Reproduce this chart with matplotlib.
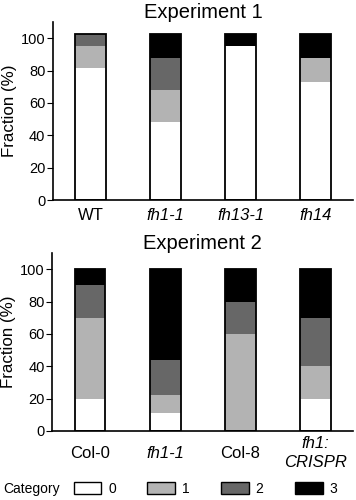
import numpy as np
import matplotlib.pyplot as plt
from matplotlib.patches import Patch

plt.rcParams['font.family'] = ['Liberation Sans', 'DejaVu Sans']

# Experiment 1 (fractions per category)
genotypes1 = ['WT', 'fh1-1', 'fh13-1', 'fh14']
cat0_1 = [81.5, 48, 95, 73]
cat1_1 = [13.5, 20, 0, 14.5]
cat2_1 = [7.5, 20, 0, 0]
cat3_1 = [0, 14.5, 7.5, 15]
italic1 = [False, True, True, True]

# Experiment 2
genotypes2 = ['Col-0', 'fh1-1', 'Col-8', 'fh1:\nCRISPR']
cat0_2 = [20, 11, 0, 20]
cat1_2 = [50, 11, 60, 20]
cat2_2 = [20, 22, 20, 30]
cat3_2 = [10, 56, 20, 30]
italic2 = [False, True, False, True]

categories = ['0', '1', '2', '3']
colors = ['white', '#b3b3b3', '#676767', 'black']


def panel(ax, names, data, italic, title, xpad):
    x = np.arange(len(names))
    bottom = np.zeros(len(names))
    for vals, c in zip(data, colors):
        ax.bar(x, vals, 0.41, bottom=bottom, color=c, edgecolor='none')
        bottom += np.array(vals)
    ax.bar(x, bottom, 0.41, fill=False, edgecolor='black', linewidth=1.3)
    ax.set_xlim(-0.5, 3.5)
    ax.set_ylim(0, 110)
    ax.set_yticks([0, 20, 40, 60, 80, 100])
    ax.set_xticks(x)
    ax.set_xticklabels(names, fontsize=12, va='center', linespacing=1.3)
    for lab, it in zip(ax.get_xticklabels(), italic):
        if it:
            lab.set_style('italic')
    ax.tick_params(axis='x', length=0, pad=xpad)
    ax.tick_params(axis='y', length=4, pad=1.5, labelsize=10.5)
    ax.spines['top'].set_visible(False)
    ax.spines['right'].set_visible(False)
    ax.spines['left'].set_linewidth(1.2)
    ax.spines['bottom'].set_linewidth(1.2)
    ax.set_ylabel('Fraction (%)', fontsize=12.2, labelpad=3)
    ax.set_title(title, fontsize=14.5, pad=3)


fig = plt.figure(figsize=(3.56, 5.0), dpi=100)
ax1 = fig.add_axes([0.149, 0.6, 0.843, 0.356])
ax2 = fig.add_axes([0.147, 0.138, 0.845, 0.356])

panel(ax1, genotypes1, [cat0_1, cat1_1, cat2_1, cat3_1], italic1, 'Experiment 1', 11)
panel(ax2, genotypes2, [cat0_2, cat1_2, cat2_2, cat3_2], italic2, 'Experiment 2', 16)

fig.text(0.01, 0.022, 'Category', fontsize=10, va='center')
handles = [Patch(facecolor=c, edgecolor='black', linewidth=1) for c in colors]
fig.legend(handles, categories, ncol=4, loc='center left',
           bbox_to_anchor=(0.207, 0.022), frameon=False, fontsize=10,
           handlelength=2.0, handleheight=0.9, handletextpad=0.5,
           columnspacing=2.25, borderpad=0, borderaxespad=0)

fig.savefig('out.png', dpi=100)
